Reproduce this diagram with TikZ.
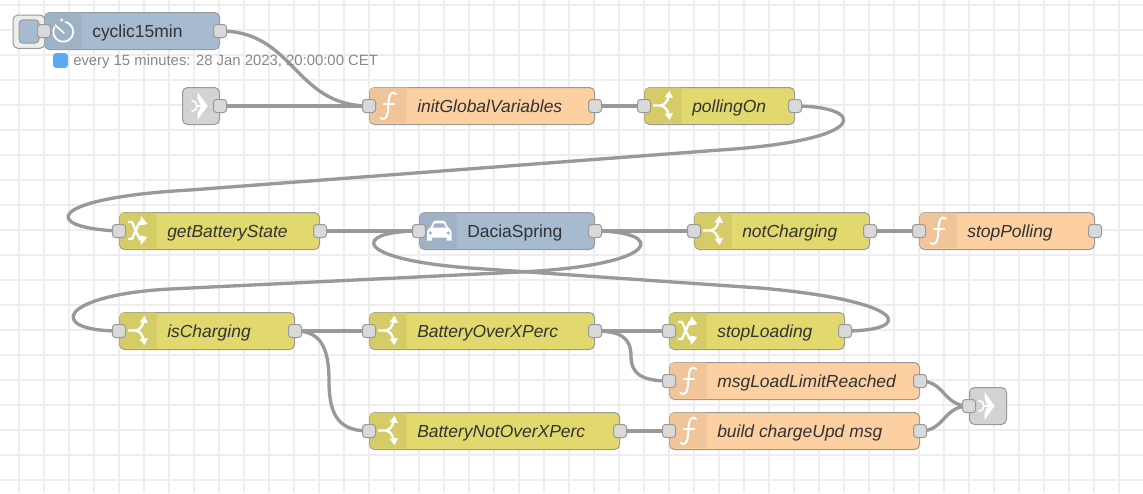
\documentclass[tikz,border=0pt]{standalone}
\usepackage{fontspec}
\setmainfont{Liberation Sans}
\usetikzlibrary{calc}
\definecolor{gridc}{HTML}{EEEEEE}
\definecolor{wirec}{HTML}{999999}
\definecolor{borderc}{HTML}{999999}
\definecolor{portc}{HTML}{D9D9D9}
\definecolor{yel}{HTML}{E2D96E}
\definecolor{yelp}{HTML}{D5CC67}
\definecolor{ora}{HTML}{FDD0A2}
\definecolor{orap}{HTML}{F0C59A}
\definecolor{blu}{HTML}{A6BBCF}
\definecolor{blup}{HTML}{9EB2C5}
\definecolor{lnk}{HTML}{D3D3D3}
\definecolor{txt}{HTML}{333333}
\definecolor{stat}{HTML}{888888}
\definecolor{statb}{HTML}{5AA9F5}
\definecolor{btn}{HTML}{EEEEEE}
\pgfdeclarelayer{gridlayer}
\pgfdeclarelayer{wirelayer}
\pgfsetlayers{gridlayer,wirelayer,main}
\tikzset{
  nrbox/.style={draw=borderc,line width=0.75pt,rounded corners=3.75pt,inner sep=0pt,anchor=north west,minimum height=27.75pt},
  port/.style={draw=borderc,fill=portc,line width=0.75pt,rounded corners=2.25pt,inner sep=0pt,minimum width=9.75pt,minimum height=9.75pt},
  nrlabel/.style={anchor=base west,inner sep=0pt,text=txt,font=\fontsize{13.1}{15}\selectfont},
  wire/.style={draw=wirec,line width=2.5pt},
  icon/.style={draw=white,line width=1.8pt,line join=round},
}
% id, x0, y0, width, fill, panel, label, font switch, icon
\newcommand{\nrnode}[9]{%
  \node[nrbox,fill=#5,minimum width=#4*0.75pt] (#1) at (#2,#3) {};
  \begin{scope}[shift={(#2,#3)}]
    \fill[#6] (37.5,36.4) [rounded corners=3.2pt] -- (0.6,36.4) -- (0.6,0.6) [sharp corners] -- (37.5,0.6) -- cycle;
    #9
  \end{scope}
  \node[nrlabel] (#1-l) at ($(#2,#3)+(48,25)$) {#8#7};
  \node[port] (#1-in) at (#1.west) {};
  \node[port] (#1-out) at (#1.east) {};
}
\newcommand{\icoswitch}{%
  \draw[icon] (9,18.5) -- (16,18.5) .. controls (20,18.5) and (23.5,15) .. (24.5,9);
  \draw[icon] (16,18.5) .. controls (20,18.5) and (23.5,22) .. (24.5,28);
  \fill[white] (25.5,4) -- (29,11) -- (20.5,10) -- cycle;
  \fill[white] (25.5,33) -- (29,26) -- (20.5,27) -- cycle;
}
\newcommand{\icochange}{%
  \draw[icon] (9,10) -- (13,10) -- (20.5,27) -- (23,27);
  \draw[icon] (9,27) -- (13,27) -- (20.5,10) -- (23,10);
  \fill[white] (22,4) -- (28.5,12) -- (20.5,13.5) -- cycle;
  \fill[white] (22,33) -- (28.5,25) -- (20.5,23.5) -- cycle;
}
\newcommand{\icofunc}{%
  \draw[draw=white,line width=1.5pt,line cap=round] (27,7) .. controls (22,3) and (20,8) .. (19.5,16) .. controls (19,24) and (19,35) .. (11.5,31);
  \draw[draw=white,line width=1.2pt] (14,17) -- (26,17);
}
\newcommand{\icolink}{%
  \fill[white] (15.5,5) -- (25.5,19) -- (15.5,33) -- (15.5,26) .. controls (17,23) and (18,21) .. (19.5,19) .. controls (18,17) and (17,15) .. (15.5,12) -- cycle;
  \draw[draw=white,line width=1.2pt] (9.5,13.5) arc[start angle=-90,end angle=90,radius=5.5];
  \draw[draw=white,line width=1.2pt] (13.5,19) -- (19,19);
}
\begin{document}
\begin{tikzpicture}[x=0.75pt,y=-0.75pt]
\useasboundingbox (0,0) rectangle (1143,493);
\begin{pgfonlayer}{gridlayer}
  \fill[white] (0,0) rectangle (1143,493);
  \foreach \gx in {0,...,46} {\draw[gridc,line width=1.5pt] (-6+25*\gx,0) -- (-6+25*\gx,493);}
  \foreach \gy in {0,...,20} {\draw[gridc,line width=1.5pt] (0,5+25*\gy) -- (1143,5+25*\gy);}
\end{pgfonlayer}

% inject button
\node[draw=borderc,fill=btn,line width=0.75pt,rounded corners=3.75pt,minimum width=24pt,minimum height=25pt,inner sep=0pt,anchor=north west] (btnout) at (12.5,14.5) {};
\node[draw=borderc,fill=blu,line width=0.75pt,rounded corners=3pt,minimum width=15pt,minimum height=17.5pt,inner sep=0pt,anchor=north west] (btnin) at (18.5,19.3) {};

\nrnode{cyc}{44}{12}{175}{blu}{blup}{cyclic15min}{}{%
  \draw[draw=white,line width=1.3pt] (21,9.85) arc[start angle=-80,delta angle=290,radius=10];
  \draw[draw=white,line width=1.2pt] (11,13) -- (20.3,21.3);
  \fill[white] (17.7,8) circle[radius=1.7];
}
\nrnode{init}{369}{87}{225}{ora}{orap}{initGlobalVariables}{\itshape}{\icofunc}
\nrnode{poll}{644}{87}{150}{yel}{yelp}{pollingOn}{\itshape}{\icoswitch}
\nrnode{getb}{119}{212}{200}{yel}{yelp}{getBatteryState}{\itshape}{\icochange}
\nrnode{dacia}{419}{212}{175}{blu}{blup}{DaciaSpring}{}{%
  \fill[white,rounded corners=2pt] (8,25.5) -- (8,17.5) -- (12,15.5) -- (14.5,8.5) -- (26,8.5) -- (28.5,15.5) -- (32.5,17.5) -- (32.5,25.5) -- cycle;
  \fill[white] (8,24) rectangle (13,28.5) (27.5,24) rectangle (32.5,28.5);
  \fill[blup] (13.5,15.7) -- (15.8,11.3) -- (24.8,11.3) -- (27,15.7) -- cycle;
  \fill[blup] (11.3,21) circle[radius=1.8] (29.3,21) circle[radius=1.8];
}
\nrnode{notc}{694}{212}{175}{yel}{yelp}{notCharging}{\itshape}{\icoswitch}
\nrnode{stopp}{919}{212}{175}{ora}{orap}{stopPolling}{\itshape}{\icofunc}
\nrnode{isc}{119}{312}{175}{yel}{yelp}{isCharging}{\itshape}{\icoswitch}
\nrnode{over}{369}{312}{225}{yel}{yelp}{BatteryOverXPerc}{\itshape}{\icoswitch}
\nrnode{stopl}{669}{312}{175}{yel}{yelp}{stopLoading}{\itshape}{\icochange}
\nrnode{msgl}{669}{362}{250}{ora}{orap}{msgLoadLimitReached}{\itshape}{\icofunc}
\nrnode{nover}{369}{412}{250}{yel}{yelp}{BatteryNotOverXPerc}{\itshape}{\icoswitch}
\nrnode{build}{669}{412}{250}{ora}{orap}{build chargeUpd msg}{\itshape}{\icofunc}

% link nodes
\node[nrbox,fill=lnk,minimum width=27.75pt] (lin) at (182,87) {};
\begin{scope}[shift={(182,87)}]\icolink\end{scope}
\node[port] (lin-out) at (lin.east) {};
\node[nrbox,fill=lnk,minimum width=27.75pt] (lout) at (969,387) {};
\begin{scope}[shift={(969,387)}]\icolink\end{scope}
\node[port] (lout-in) at (lout.west) {};

% status
\node[fill=statb,rounded corners=2pt,minimum width=11pt,minimum height=11pt,inner sep=0pt] (stb) at (60.5,60.5) {};
\node[anchor=base west,inner sep=0pt,text=stat,font=\fontsize{11.15}{13}\selectfont] (stt) at (73,65.5) {every 15 minutes: 28 Jan 2023, 20:00:00 CET};

\begin{pgfonlayer}{wirelayer}
  \draw[wire] (cyc-out.center) .. controls +(75,0) and ($(init-in.center)+(-75,0)$) .. (init-in.center);
  \draw[wire] (lin-out.center) -- (init-in.center);
  \draw[wire] (init-out.center) -- (poll-in.center);
  \draw[wire] (poll-out.center) .. controls +(70,0) and (875,140) .. (720,150) -- (190,190)
     .. controls (45,198) and (40,228) .. (getb-in.center);
  \draw[wire] (getb-out.center) -- (dacia-in.center);
  \draw[wire] (dacia-out.center) -- (notc-in.center);
  \draw[wire] (notc-out.center) -- (stopp-in.center);
  \draw[wire] (dacia-out.center) .. controls +(70,0) and (666,265) .. (520,272) -- (170,289)
     .. controls (58,295) and (46,331) .. (isc-in.center);
  \draw[wire] (stopl-out.center) .. controls +(70,0) and (910,301) .. (760,288) -- (470,268)
     .. controls (350,259) and (353,231) .. (dacia-in.center);
  \draw[wire] (isc-out.center) -- (over-in.center);
  \draw[wire] (isc-out.center) .. controls +(24,0) and (329,345) .. (329,381)
     .. controls (329,417) and (340,431) .. (nover-in.center);
  \draw[wire] (over-out.center) -- (stopl-in.center);
  \draw[wire] (over-out.center) .. controls +(26,0) and (631,338) .. (631,356)
     .. controls (631,374) and (642,381) .. (msgl-in.center);
  \draw[wire] (nover-out.center) -- (build-in.center);
  \draw[wire] (msgl-out.center) .. controls (945,381) and (943,406) .. (lout-in.center);
  \draw[wire] (build-out.center) .. controls (945,431) and (943,406) .. (lout-in.center);
\end{pgfonlayer}
\end{tikzpicture}
\end{document}
